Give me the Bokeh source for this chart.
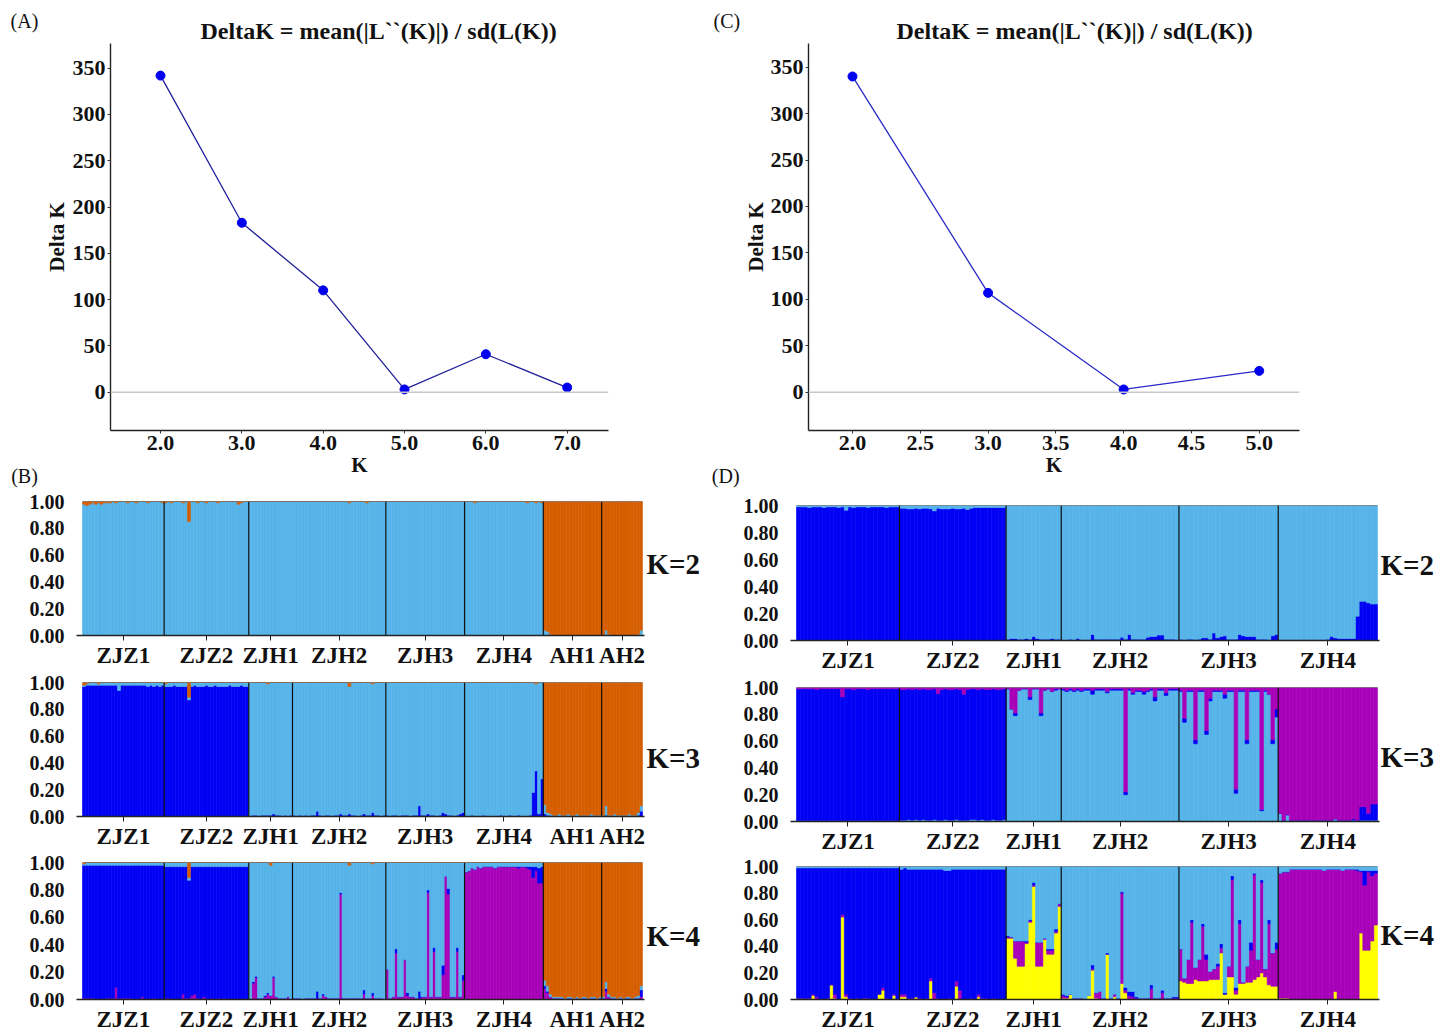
from bokeh.plotting import figure
from bokeh.layouts import column, row
from bokeh.models import Range1d, FixedTicker, Span, ColumnDataSource, NumeralTickFormatter, LinearAxis
from bokeh.embed import file_html
from bokeh.resources import INLINE

FONT = "Liberation Serif"

# ---------------- Delta K data ----------------
K_A = [2, 3, 4, 5, 6, 7]
DK_A = [342, 183, 110, 3, 41, 5]
K_C = [2, 3, 4, 5]
DK_C = [340, 107, 3, 23]
XTICKS_A = [2, 3, 4, 5, 6, 7]
XTICKS_C = [2.0, 2.5, 3.0, 3.5, 4.0, 4.5, 5.0]
YTICKS_DK = [0, 50, 100, 150, 200, 250, 300, 350]
TITLE = "DeltaK = mean(|L``(K)|) / sd(L(K))"

# ---------------- STRUCTURE data ----------------
POPS_B = ["ZJZ1", "ZJZ2", "ZJH1", "ZJH2", "ZJH3", "ZJH4", "AH1", "AH2"]
N_B = [28, 29, 15, 32, 27, 27, 20, 14]
POPS_D = ["ZJZ1", "ZJZ2", "ZJH1", "ZJH2", "ZJH3", "ZJH4"]
N_D = [28, 29, 15, 32, 27, 27]
Q_TICKS = [0.0, 0.2, 0.4, 0.6, 0.8, 1.0]

C_LB = "#56B4E9"   # light blue
C_DB = "#0000F5"   # dark blue
C_OR = "#D55E00"   # orange
C_MG = "#A800B8"   # magenta
C_YE = "#FFFF00"   # yellow

# (B) K=2 : light blue (rest) / orange
B2_ORANGE = [
    0.02, 0.03, 0.02, 0.01, 0.02, 0.01, 0.02, 0.01, 0.01, 0.01, 0.00, 0.01, 0.00, 0.00, 0.00, 0.01, 0.00, 0.00, 0.01, 0.00, 0.00, 0.00, 0.01, 0.00, 0.00, 0.00, 0.00, 0.01,
    0.01, 0.00, 0.01, 0.00, 0.00, 0.00, 0.01, 0.00, 0.15, 0.00, 0.00, 0.01, 0.00, 0.00, 0.01, 0.00, 0.00, 0.00, 0.01, 0.00, 0.00, 0.00, 0.00, 0.00, 0.00, 0.02, 0.01, 0.00, 0.00,
    0.00, 0.00, 0.00, 0.00, 0.00, 0.00, 0.00, 0.00, 0.00, 0.00, 0.00, 0.00, 0.00, 0.00, 0.00,
    0.00, 0.00, 0.00, 0.00, 0.00, 0.00, 0.00, 0.00, 0.00, 0.00, 0.00, 0.00, 0.00, 0.00, 0.00, 0.00, 0.00, 0.00, 0.00, 0.01, 0.00, 0.00, 0.00, 0.00, 0.00, 0.01, 0.00, 0.00, 0.00, 0.00, 0.00, 0.00,
    0.00, 0.00, 0.00, 0.00, 0.00, 0.00, 0.00, 0.00, 0.00, 0.00, 0.00, 0.00, 0.00, 0.00, 0.00, 0.00, 0.00, 0.00, 0.00, 0.00, 0.00, 0.00, 0.00, 0.00, 0.00, 0.00, 0.00,
    0.00, 0.00, 0.00, 0.01, 0.00, 0.00, 0.00, 0.00, 0.00, 0.00, 0.00, 0.00, 0.00, 0.00, 0.00, 0.00, 0.00, 0.00, 0.00, 0.00, 0.00, 0.01, 0.00, 0.00, 0.01, 0.00, 0.01,
    0.96, 0.97, 0.99, 1.00, 1.00, 1.00, 1.00, 1.00, 1.00, 1.00, 1.00, 1.00, 1.00, 1.00, 1.00, 1.00, 1.00, 1.00, 1.00, 1.00,
    1.00, 0.96, 0.99, 1.00, 1.00, 1.00, 1.00, 1.00, 1.00, 1.00, 1.00, 1.00, 0.99, 0.96,
]

# (B) K=3 : dark blue / light blue (rest) / orange
B3_DBLUE = [
    0.97, 0.98, 0.98, 0.98, 0.98, 0.98, 0.98, 0.98, 0.98, 0.98, 0.98, 0.98, 0.94, 0.98, 0.98, 0.98, 0.98, 0.98, 0.98, 0.98, 0.98, 0.98, 0.97, 0.98, 0.97, 0.98, 0.97, 0.98,
    0.97, 0.97, 0.97, 0.98, 0.97, 0.97, 0.97, 0.97, 0.87, 0.97, 0.98, 0.97, 0.97, 0.97, 0.98, 0.97, 0.97, 0.98, 0.97, 0.97, 0.97, 0.97, 0.98, 0.97, 0.97, 0.97, 0.98, 0.97, 0.97,
    0.00, 0.01, 0.01, 0.00, 0.01, 0.01, 0.01, 0.01, 0.02, 0.01, 0.01, 0.00, 0.01, 0.00, 0.01,
    0.01, 0.00, 0.01, 0.00, 0.01, 0.00, 0.01, 0.01, 0.04, 0.01, 0.00, 0.01, 0.01, 0.00, 0.01, 0.01, 0.02, 0.01, 0.01, 0.02, 0.01, 0.01, 0.00, 0.01, 0.02, 0.01, 0.01, 0.03, 0.01, 0.01, 0.00, 0.01,
    0.01, 0.00, 0.01, 0.01, 0.00, 0.01, 0.01, 0.01, 0.00, 0.01, 0.01, 0.08, 0.01, 0.01, 0.02, 0.01, 0.01, 0.00, 0.01, 0.03, 0.02, 0.01, 0.01, 0.00, 0.01, 0.02, 0.03,
    0.00, 0.00, 0.01, 0.00, 0.00, 0.00, 0.01, 0.00, 0.00, 0.00, 0.00, 0.00, 0.01, 0.00, 0.00, 0.01, 0.00, 0.00, 0.01, 0.00, 0.00, 0.00, 0.01, 0.18, 0.34, 0.02, 0.28,
    0.02, 0.01, 0.00, 0.00, 0.00, 0.00, 0.00, 0.00, 0.00, 0.00, 0.00, 0.00, 0.00, 0.00, 0.00, 0.00, 0.00, 0.00, 0.00, 0.00,
    0.00, 0.01, 0.00, 0.00, 0.00, 0.00, 0.00, 0.00, 0.00, 0.00, 0.00, 0.00, 0.01, 0.04,
]
B3_ORANGE = [
    0.02, 0.01, 0.00, 0.00, 0.00, 0.01, 0.00, 0.00, 0.00, 0.00, 0.00, 0.00, 0.00, 0.00, 0.00, 0.00, 0.00, 0.00, 0.00, 0.00, 0.00, 0.00, 0.00, 0.00, 0.00, 0.00, 0.00, 0.00,
    0.01, 0.00, 0.00, 0.00, 0.00, 0.00, 0.00, 0.00, 0.11, 0.00, 0.00, 0.00, 0.00, 0.00, 0.00, 0.00, 0.00, 0.00, 0.00, 0.00, 0.00, 0.00, 0.00, 0.00, 0.00, 0.00, 0.00, 0.00, 0.00,
    0.00, 0.00, 0.00, 0.00, 0.00, 0.00, 0.01, 0.00, 0.00, 0.00, 0.00, 0.00, 0.00, 0.00, 0.00,
    0.00, 0.00, 0.00, 0.00, 0.00, 0.00, 0.00, 0.00, 0.00, 0.00, 0.00, 0.00, 0.00, 0.00, 0.00, 0.00, 0.00, 0.00, 0.00, 0.03, 0.00, 0.00, 0.00, 0.00, 0.00, 0.00, 0.00, 0.01, 0.00, 0.00, 0.00, 0.00,
    0.00, 0.00, 0.00, 0.00, 0.00, 0.00, 0.00, 0.00, 0.00, 0.00, 0.00, 0.00, 0.00, 0.00, 0.00, 0.00, 0.00, 0.00, 0.00, 0.00, 0.00, 0.00, 0.00, 0.00, 0.00, 0.00, 0.00,
    0.00, 0.00, 0.00, 0.00, 0.00, 0.00, 0.00, 0.00, 0.00, 0.00, 0.00, 0.00, 0.00, 0.00, 0.00, 0.00, 0.00, 0.00, 0.00, 0.00, 0.00, 0.00, 0.00, 0.00, 0.01, 0.00, 0.00,
    0.91, 0.97, 0.98, 0.99, 0.99, 0.98, 0.99, 0.99, 0.98, 0.99, 0.99, 0.98, 0.99, 0.99, 0.99, 0.99, 0.98, 0.99, 0.99, 0.99,
    0.99, 0.92, 0.99, 0.99, 0.98, 0.99, 0.99, 0.99, 0.99, 0.98, 0.99, 0.99, 0.97, 0.92,
]

# (B) K=4 : magenta / dark blue / light blue (rest) / orange
B4_MAGENTA = [
    0.01, 0.01, 0.01, 0.01, 0.00, 0.00, 0.00, 0.00, 0.01, 0.01, 0.01, 0.09, 0.01, 0.01, 0.01, 0.01, 0.01, 0.00, 0.00, 0.00, 0.02, 0.00, 0.00, 0.00, 0.01, 0.00, 0.00, 0.00,
    0.01, 0.01, 0.00, 0.00, 0.00, 0.00, 0.04, 0.01, 0.01, 0.03, 0.04, 0.01, 0.00, 0.02, 0.01, 0.00, 0.01, 0.00, 0.01, 0.00, 0.01, 0.00, 0.00, 0.00, 0.00, 0.00, 0.00, 0.00, 0.00,
    0.00, 0.12, 0.16, 0.01, 0.01, 0.02, 0.04, 0.03, 0.16, 0.02, 0.01, 0.01, 0.01, 0.02, 0.00,
    0.01, 0.01, 0.01, 0.00, 0.01, 0.01, 0.01, 0.01, 0.01, 0.01, 0.03, 0.02, 0.01, 0.01, 0.01, 0.01, 0.77, 0.01, 0.01, 0.01, 0.01, 0.01, 0.01, 0.01, 0.04, 0.01, 0.01, 0.03, 0.01, 0.01, 0.01, 0.00,
    0.22, 0.01, 0.02, 0.34, 0.02, 0.02, 0.29, 0.03, 0.02, 0.02, 0.01, 0.01, 0.02, 0.02, 0.78, 0.02, 0.35, 0.02, 0.02, 0.18, 0.90, 0.77, 0.02, 0.02, 0.35, 0.02, 0.14,
    0.93, 0.94, 0.96, 0.95, 0.97, 0.96, 0.97, 0.97, 0.97, 0.97, 0.96, 0.97, 0.97, 0.97, 0.97, 0.97, 0.97, 0.97, 0.96, 0.97, 0.97, 0.96, 0.95, 0.89, 0.94, 0.85, 0.85,
    0.08, 0.05, 0.02, 0.01, 0.01, 0.01, 0.01, 0.00, 0.01, 0.01, 0.00, 0.01, 0.00, 0.01, 0.01, 0.00, 0.01, 0.01, 0.00, 0.01,
    0.01, 0.06, 0.02, 0.01, 0.01, 0.00, 0.01, 0.00, 0.01, 0.01, 0.00, 0.01, 0.01, 0.02,
]
B4_DBLUE = [
    0.97, 0.97, 0.97, 0.97, 0.98, 0.98, 0.98, 0.98, 0.97, 0.97, 0.97, 0.89, 0.97, 0.97, 0.97, 0.97, 0.97, 0.98, 0.98, 0.98, 0.96, 0.98, 0.98, 0.98, 0.97, 0.98, 0.98, 0.98,
    0.96, 0.96, 0.97, 0.97, 0.97, 0.97, 0.93, 0.96, 0.86, 0.94, 0.93, 0.96, 0.97, 0.95, 0.96, 0.97, 0.96, 0.97, 0.96, 0.97, 0.96, 0.97, 0.97, 0.97, 0.97, 0.97, 0.97, 0.97, 0.97,
    0.00, 0.01, 0.01, 0.00, 0.00, 0.01, 0.01, 0.00, 0.01, 0.00, 0.00, 0.00, 0.00, 0.00, 0.00,
    0.00, 0.00, 0.00, 0.00, 0.00, 0.00, 0.00, 0.00, 0.05, 0.00, 0.01, 0.00, 0.00, 0.00, 0.00, 0.00, 0.01, 0.00, 0.00, 0.00, 0.00, 0.00, 0.00, 0.00, 0.03, 0.00, 0.00, 0.02, 0.00, 0.00, 0.00, 0.00,
    0.00, 0.00, 0.00, 0.03, 0.00, 0.00, 0.00, 0.02, 0.00, 0.00, 0.00, 0.05, 0.00, 0.00, 0.02, 0.00, 0.03, 0.00, 0.00, 0.07, 0.00, 0.04, 0.00, 0.00, 0.03, 0.00, 0.04,
    0.00, 0.00, 0.00, 0.00, 0.00, 0.00, 0.00, 0.00, 0.00, 0.00, 0.00, 0.00, 0.00, 0.00, 0.00, 0.00, 0.00, 0.00, 0.01, 0.00, 0.00, 0.01, 0.02, 0.08, 0.03, 0.11, 0.12,
    0.02, 0.01, 0.00, 0.00, 0.00, 0.00, 0.00, 0.00, 0.00, 0.00, 0.00, 0.00, 0.00, 0.00, 0.00, 0.00, 0.00, 0.00, 0.00, 0.00,
    0.00, 0.02, 0.00, 0.00, 0.00, 0.00, 0.00, 0.00, 0.00, 0.00, 0.00, 0.00, 0.00, 0.05,
]
B4_ORANGE = [
    0.01, 0.00, 0.00, 0.00, 0.00, 0.00, 0.00, 0.00, 0.00, 0.00, 0.00, 0.00, 0.00, 0.00, 0.00, 0.00, 0.00, 0.00, 0.00, 0.00, 0.00, 0.00, 0.00, 0.00, 0.00, 0.00, 0.00, 0.00,
    0.00, 0.00, 0.00, 0.00, 0.00, 0.00, 0.00, 0.00, 0.11, 0.00, 0.00, 0.00, 0.00, 0.00, 0.00, 0.00, 0.00, 0.00, 0.00, 0.00, 0.00, 0.00, 0.00, 0.00, 0.00, 0.00, 0.00, 0.00, 0.00,
    0.00, 0.00, 0.00, 0.00, 0.00, 0.00, 0.00, 0.02, 0.00, 0.00, 0.00, 0.00, 0.00, 0.00, 0.00,
    0.00, 0.00, 0.00, 0.00, 0.00, 0.00, 0.00, 0.00, 0.00, 0.00, 0.00, 0.00, 0.00, 0.00, 0.00, 0.00, 0.00, 0.00, 0.00, 0.02, 0.00, 0.00, 0.00, 0.00, 0.00, 0.00, 0.00, 0.01, 0.00, 0.00, 0.00, 0.00,
    0.00, 0.00, 0.00, 0.00, 0.00, 0.00, 0.00, 0.00, 0.00, 0.00, 0.00, 0.00, 0.00, 0.00, 0.00, 0.00, 0.00, 0.00, 0.00, 0.00, 0.00, 0.00, 0.00, 0.00, 0.00, 0.00, 0.00,
    0.00, 0.00, 0.00, 0.00, 0.00, 0.00, 0.00, 0.00, 0.00, 0.00, 0.00, 0.00, 0.00, 0.00, 0.00, 0.00, 0.00, 0.00, 0.00, 0.00, 0.00, 0.00, 0.00, 0.00, 0.00, 0.00, 0.00,
    0.86, 0.90, 0.96, 0.98, 0.98, 0.98, 0.98, 0.99, 0.98, 0.98, 0.99, 0.98, 0.99, 0.98, 0.98, 0.99, 0.98, 0.98, 0.99, 0.98,
    0.98, 0.87, 0.96, 0.98, 0.98, 0.99, 0.98, 0.99, 0.98, 0.98, 0.99, 0.98, 0.97, 0.90,
]

# (D) K=2 : dark blue / light blue (rest)
D2_DBLUE = [
    0.99, 0.99, 0.99, 0.985, 0.99, 0.99, 0.99, 0.985, 0.99, 0.99, 0.99, 0.985, 0.99, 0.965, 0.99, 0.985, 0.99, 0.99, 0.99, 0.985, 0.99, 0.99, 0.99, 0.99, 0.985, 0.99, 0.99, 0.99,
    0.98, 0.98, 0.975, 0.975, 0.98, 0.975, 0.98, 0.98, 0.975, 0.96, 0.98, 0.975, 0.975, 0.975, 0.98, 0.975, 0.975, 0.98, 0.97, 0.98, 0.985, 0.985, 0.985, 0.985, 0.985, 0.985, 0.985, 0.985, 0.985,
    0.01, 0.015, 0.015, 0.01, 0.01, 0.015, 0.01, 0.03, 0.015, 0.01, 0.01, 0.01, 0.015, 0.01, 0.01,
    0.005, 0.00, 0.01, 0.00, 0.015, 0.005, 0.005, 0.005, 0.045, 0.01, 0.01, 0.01, 0.01, 0.01, 0.01, 0.01, 0.025, 0.01, 0.045, 0.01, 0.01, 0.01, 0.01, 0.025, 0.03, 0.03, 0.04, 0.04, 0.01, 0.01, 0.01, 0.005,
    0.01, 0.005, 0.01, 0.01, 0.005, 0.01, 0.02, 0.02, 0.01, 0.055, 0.02, 0.03, 0.035, 0.01, 0.01, 0.01, 0.045, 0.035, 0.03, 0.03, 0.03, 0.01, 0.01, 0.01, 0.005, 0.035, 0.045,
    0.005, 0.005, 0.005, 0.005, 0.005, 0.005, 0.005, 0.005, 0.005, 0.005, 0.005, 0.005, 0.005, 0.01, 0.03, 0.02, 0.015, 0.015, 0.015, 0.015, 0.015, 0.18, 0.29, 0.29, 0.28, 0.27, 0.27,
]

# (D) K=3 : light blue (rest) / dark blue / magenta
D3_DBLUE = [
    0.985, 0.985, 0.985, 0.985, 0.985, 0.98, 0.985, 0.985, 0.985, 0.985, 0.985, 0.985, 0.925, 0.985, 0.985, 0.98, 0.985, 0.985, 0.985, 0.98, 0.985, 0.985, 0.985, 0.985, 0.985, 0.985, 0.985, 0.985,
    0.975, 0.975, 0.975, 0.975, 0.975, 0.975, 0.975, 0.975, 0.975, 0.975, 0.945, 0.975, 0.975, 0.975, 0.975, 0.975, 0.975, 0.94, 0.975, 0.975, 0.975, 0.975, 0.975, 0.975, 0.975, 0.975, 0.975, 0.975, 0.975,
    0.00, 0.00, 0.02, 0.00, 0.00, 0.00, 0.02, 0.00, 0.00, 0.02, 0.00, 0.00, 0.00, 0.01, 0.00,
    0.01, 0.01, 0.01, 0.01, 0.01, 0.01, 0.01, 0.01, 0.03, 0.01, 0.01, 0.01, 0.01, 0.01, 0.01, 0.01, 0.01, 0.02, 0.01, 0.01, 0.01, 0.01, 0.02, 0.01, 0.01, 0.03, 0.01, 0.01, 0.02, 0.01, 0.01, 0.01,
    0.01, 0.03, 0.01, 0.01, 0.03, 0.01, 0.01, 0.03, 0.02, 0.01, 0.01, 0.01, 0.03, 0.01, 0.01, 0.03, 0.01, 0.01, 0.03, 0.01, 0.01, 0.01, 0.01, 0.01, 0.00, 0.03, 0.06,
    0.00, 0.00, 0.00, 0.00, 0.00, 0.00, 0.00, 0.00, 0.00, 0.00, 0.00, 0.00, 0.00, 0.00, 0.00, 0.00, 0.00, 0.00, 0.00, 0.00, 0.01, 0.00, 0.10, 0.10, 0.05, 0.12, 0.12,
]
D3_MAGENTA = [
    0.01, 0.01, 0.01, 0.01, 0.01, 0.015, 0.01, 0.01, 0.01, 0.01, 0.01, 0.01, 0.07, 0.01, 0.01, 0.015, 0.01, 0.01, 0.01, 0.015, 0.01, 0.01, 0.01, 0.01, 0.01, 0.01, 0.01, 0.01,
    0.015, 0.015, 0.01, 0.015, 0.01, 0.015, 0.01, 0.015, 0.015, 0.01, 0.045, 0.015, 0.01, 0.015, 0.015, 0.01, 0.015, 0.05, 0.015, 0.01, 0.01, 0.015, 0.01, 0.015, 0.015, 0.01, 0.015, 0.015, 0.01,
    0.01, 0.16, 0.19, 0.02, 0.01, 0.01, 0.07, 0.01, 0.01, 0.19, 0.02, 0.01, 0.03, 0.01, 0.01,
    0.01, 0.02, 0.01, 0.02, 0.01, 0.02, 0.01, 0.01, 0.02, 0.01, 0.01, 0.01, 0.03, 0.01, 0.01, 0.01, 0.01, 0.78, 0.01, 0.04, 0.02, 0.02, 0.03, 0.02, 0.01, 0.07, 0.01, 0.01, 0.04, 0.01, 0.01, 0.01,
    0.02, 0.23, 0.02, 0.02, 0.39, 0.02, 0.02, 0.32, 0.08, 0.02, 0.02, 0.02, 0.05, 0.02, 0.02, 0.76, 0.02, 0.02, 0.39, 0.02, 0.02, 0.02, 0.91, 0.02, 0.05, 0.39, 0.16,
    0.94, 0.99, 0.95, 0.99, 0.99, 0.99, 0.99, 0.99, 0.99, 0.99, 0.99, 0.99, 0.99, 0.99, 0.99, 0.98, 0.99, 0.99, 0.99, 0.99, 0.98, 0.99, 0.89, 0.89, 0.94, 0.87, 0.87,
]

# (D) K=4 : yellow / magenta / dark blue / light blue (rest)
D4_YELLOW = [
    0.01, 0.01, 0.00, 0.00, 0.03, 0.00, 0.00, 0.00, 0.00, 0.11, 0.01, 0.00, 0.62, 0.02, 0.00, 0.00, 0.00, 0.00, 0.01, 0.00, 0.00, 0.00, 0.04, 0.07, 0.00, 0.00, 0.03, 0.00,
    0.02, 0.02, 0.00, 0.00, 0.02, 0.00, 0.00, 0.00, 0.14, 0.00, 0.00, 0.00, 0.00, 0.00, 0.00, 0.10, 0.00, 0.00, 0.00, 0.00, 0.00, 0.02, 0.00, 0.00, 0.00, 0.00, 0.00, 0.00, 0.00,
    0.46, 0.46, 0.31, 0.25, 0.25, 0.42, 0.58, 0.85, 0.25, 0.25, 0.45, 0.34, 0.34, 0.50, 0.70,
    0.01, 0.01, 0.04, 0.00, 0.00, 0.00, 0.00, 0.03, 0.22, 0.01, 0.00, 0.00, 0.34, 0.00, 0.02, 0.00, 0.12, 0.05, 0.00, 0.00, 0.00, 0.00, 0.00, 0.00, 0.00, 0.00, 0.00, 0.00, 0.00, 0.00, 0.00, 0.00,
    0.14, 0.13, 0.12, 0.12, 0.15, 0.14, 0.14, 0.14, 0.15, 0.15, 0.15, 0.35, 0.04, 0.17, 0.17, 0.04, 0.12, 0.12, 0.13, 0.13, 0.15, 0.17, 0.20, 0.17, 0.11, 0.10, 0.10,
    0.01, 0.01, 0.01, 0.00, 0.00, 0.00, 0.00, 0.00, 0.00, 0.00, 0.00, 0.00, 0.00, 0.00, 0.00, 0.06, 0.00, 0.00, 0.00, 0.00, 0.00, 0.00, 0.50, 0.37, 0.37, 0.44, 0.56,
]
D4_MAGENTA = [
    0.00, 0.00, 0.01, 0.01, 0.01, 0.02, 0.00, 0.00, 0.01, 0.00, 0.03, 0.00, 0.02, 0.02, 0.01, 0.00, 0.01, 0.00, 0.00, 0.01, 0.00, 0.00, 0.00, 0.02, 0.01, 0.00, 0.01, 0.00,
    0.02, 0.02, 0.01, 0.01, 0.00, 0.01, 0.00, 0.01, 0.02, 0.05, 0.01, 0.00, 0.00, 0.01, 0.00, 0.04, 0.07, 0.00, 0.00, 0.01, 0.00, 0.02, 0.01, 0.01, 0.00, 0.01, 0.00, 0.00, 0.00,
    0.01, 0.01, 0.13, 0.19, 0.19, 0.01, 0.01, 0.01, 0.18, 0.18, 0.01, 0.03, 0.03, 0.01, 0.02,
    0.02, 0.01, 0.00, 0.01, 0.01, 0.01, 0.00, 0.00, 0.01, 0.04, 0.06, 0.01, 0.00, 0.01, 0.02, 0.01, 0.68, 0.02, 0.03, 0.02, 0.01, 0.01, 0.01, 0.01, 0.08, 0.01, 0.01, 0.05, 0.01, 0.01, 0.01, 0.01,
    0.24, 0.03, 0.18, 0.46, 0.09, 0.16, 0.41, 0.16, 0.06, 0.08, 0.10, 0.04, 0.00, 0.08, 0.73, 0.03, 0.45, 0.01, 0.12, 0.24, 0.79, 0.13, 0.68, 0.06, 0.46, 0.25, 0.28,
    0.94, 0.95, 0.95, 0.98, 0.98, 0.98, 0.98, 0.98, 0.98, 0.98, 0.98, 0.98, 0.97, 0.98, 0.98, 0.92, 0.98, 0.97, 0.98, 0.98, 0.98, 0.97, 0.46, 0.49, 0.59, 0.49, 0.39,
]
D4_DBLUE = [
    0.98, 0.98, 0.98, 0.98, 0.95, 0.97, 0.99, 0.99, 0.98, 0.88, 0.95, 0.99, 0.35, 0.95, 0.98, 0.99, 0.98, 0.99, 0.98, 0.98, 0.99, 0.99, 0.95, 0.90, 0.98, 0.99, 0.95, 0.99,
    0.94, 0.95, 0.97, 0.97, 0.96, 0.97, 0.98, 0.97, 0.82, 0.93, 0.97, 0.98, 0.97, 0.96, 0.98, 0.84, 0.91, 0.98, 0.98, 0.97, 0.98, 0.94, 0.97, 0.97, 0.98, 0.97, 0.98, 0.98, 0.98,
    0.01, 0.00, 0.00, 0.00, 0.00, 0.01, 0.01, 0.02, 0.00, 0.00, 0.00, 0.01, 0.01, 0.02, 0.00,
    0.01, 0.01, 0.00, 0.00, 0.00, 0.00, 0.00, 0.00, 0.03, 0.00, 0.00, 0.00, 0.01, 0.00, 0.00, 0.00, 0.01, 0.02, 0.03, 0.04, 0.01, 0.00, 0.00, 0.00, 0.03, 0.00, 0.00, 0.02, 0.00, 0.00, 0.01, 0.01,
    0.00, 0.00, 0.00, 0.02, 0.00, 0.00, 0.02, 0.04, 0.00, 0.00, 0.02, 0.03, 0.01, 0.00, 0.03, 0.02, 0.03, 0.00, 0.00, 0.06, 0.01, 0.00, 0.02, 0.00, 0.03, 0.00, 0.05,
    0.00, 0.00, 0.00, 0.00, 0.00, 0.00, 0.00, 0.00, 0.00, 0.00, 0.00, 0.00, 0.00, 0.00, 0.00, 0.00, 0.00, 0.00, 0.00, 0.00, 0.00, 0.01, 0.01, 0.11, 0.01, 0.04, 0.02,
]


def complete(layers, n):
    known = [v for _, v in layers if v is not None]
    rest = [max(0.0, 1.0 - sum(v[i] for v in known)) for i in range(n)]
    return [(c, v if v is not None else rest) for c, v in layers]


def style_text_axis(ax, size, bold=True):
    ax.major_label_text_font = FONT
    ax.major_label_text_font_style = "bold" if bold else "normal"
    ax.major_label_text_font_size = size
    ax.major_label_text_color = "#111111"


def bare_axis(ticks, overrides, size, standoff, bold=True):
    ax = LinearAxis(ticker=FixedTicker(ticks=ticks), major_label_overrides=overrides)
    style_text_axis(ax, size, bold)
    ax.axis_line_color = None
    ax.major_tick_line_color = None
    ax.minor_tick_line_color = None
    ax.major_tick_out = 0
    ax.major_tick_in = 0
    ax.major_label_standoff = standoff
    return ax


def make_letter_strip(width, height, bt, bb, xc, top_txt, bot_txt):
    p = figure(width=width, height=height, output_backend="svg", toolbar_location=None,
               x_range=Range1d(0, width), y_range=Range1d(0, 1),
               x_axis_location=None, y_axis_location=None,
               min_border_left=0, min_border_right=0, min_border_top=bt, min_border_bottom=bb)
    p.outline_line_color = None
    p.grid.visible = False
    p.add_layout(bare_axis([xc], {xc: top_txt}, "20px", 12, bold=False), "above")
    p.add_layout(bare_axis([xc], {xc: bot_txt}, "20px", 34, bold=False), "below")
    return p


def make_delta(ks, dks, xticks, width, height, bl, br, bt, bb, xr, yr,
               title_offset, ylab_standoff, line_color):
    p = figure(width=width, height=height, output_backend="svg", toolbar_location=None,
               x_range=Range1d(*xr), y_range=Range1d(*yr), title=TITLE,
               min_border_left=bl, min_border_right=br, min_border_top=bt, min_border_bottom=bb)
    p.title.align = "left"
    p.title.offset = title_offset
    p.title.standoff = 0
    p.title.text_font = FONT
    p.title.text_font_style = "bold"
    p.title.text_font_size = "24px"
    p.title.text_color = "#111111"
    p.outline_line_color = None
    p.grid.visible = False
    p.add_layout(Span(location=0, dimension="width", line_color="#c8c8c8", line_width=1.5))
    p.line(ks, dks, line_color=line_color, line_width=1.3)
    p.scatter(ks, dks, size=9, fill_color="#0000EE", line_color="#0000EE")
    p.xaxis.ticker = FixedTicker(ticks=xticks)
    p.xaxis.formatter = NumeralTickFormatter(format="0.0")
    p.yaxis.ticker = FixedTicker(ticks=YTICKS_DK)
    for ax in p.axis:
        style_text_axis(ax, "22px")
        ax.axis_line_color = "#222222"
        ax.axis_line_width = 1.4
        ax.major_tick_out = 3
        ax.major_tick_in = 0
        ax.major_tick_line_color = "#333333"
        ax.minor_tick_line_color = None
        ax.major_label_standoff = 2
        ax.axis_label_text_font = FONT
        ax.axis_label_text_font_style = "bold"
        ax.axis_label_text_font_size = "21px"
        ax.axis_label_text_color = "#111111"
    p.xaxis.axis_label = "K"
    p.xaxis.axis_label_standoff = 0
    p.yaxis.axis_label = "Delta K"
    p.yaxis.axis_label_standoff = ylab_standoff
    return p


def make_struct(pops, counts, layers, width, height, bl, br, bt, bb, xr,
                klabel, ky, kstand, skip_sep=()):
    n = sum(counts)
    p = figure(width=width, height=height, output_backend="svg", toolbar_location=None,
               x_range=Range1d(*xr), y_range=Range1d(0, 1),
               min_border_left=bl, min_border_right=br, min_border_top=bt, min_border_bottom=bb)
    p.outline_line_color = None
    p.grid.visible = False
    idx = list(range(n))
    right = [i + 1 for i in idx]
    base = [0.0] * n
    for color, vals in complete(layers, n):
        top = [b + v for b, v in zip(base, vals)]
        src = ColumnDataSource(dict(left=idx, right=right, bottom=base, top=top))
        p.quad(left="left", right="right", bottom="bottom", top="top", source=src,
               fill_color=color, line_color=color, line_width=0.6)
        base = top
    bounds, centers, c = [], [], 0
    for name, m in zip(pops, counts):
        if c > 0 and name not in skip_sep:
            bounds.append(c)
        centers.append(c + m / 2.0)
        c += m
    p.segment(x0=bounds, y0=[0] * len(bounds), x1=bounds, y1=[1] * len(bounds),
              line_color="#111111", line_width=1.2)
    p.segment(x0=[0], y0=[1], x1=[n], y1=[1], line_color="#444444", line_width=1.2)
    xa = p.xaxis[0]
    xa.ticker = FixedTicker(ticks=centers)
    xa.major_label_overrides = {ct: nm for ct, nm in zip(centers, pops)}
    style_text_axis(xa, "23px")
    xa.axis_line_color = "#222222"
    xa.axis_line_width = 1.4
    xa.major_tick_out = 5
    xa.major_tick_in = 0
    xa.major_tick_line_color = "#222222"
    xa.minor_tick_line_color = None
    xa.major_label_standoff = 2
    ya = p.yaxis[0]
    ya.ticker = FixedTicker(ticks=Q_TICKS)
    ya.formatter = NumeralTickFormatter(format="0.00")
    style_text_axis(ya, "20px")
    ya.axis_line_color = None
    ya.major_tick_line_color = None
    ya.minor_tick_line_color = None
    ya.major_label_standoff = 6
    p.add_layout(bare_axis([ky], {ky: klabel}, "29px", kstand), "right")
    return p


# ---- top block (page y 0..489) ----
stripL = make_letter_strip(41, 489, 43, 59, 24, "(A)", "(B)")
pA = make_delta(K_A, DK_A, XTICKS_A, 669, 489, 69, 102, 43, 59,
                (1.385, 7.508), (-41.4, 376.7), 90, 1, "#20209a")
stripR = make_letter_strip(30, 489, 43, 59, 17, "(C)", "(D)")
pC = make_delta(K_C, DK_C, XTICKS_C, 708, 489, 68, 149, 43, 59,
                (1.6755, 5.297), (-41.2, 375.5), 88, 0, "#2a2ac8")

XR_B = (-2.06, 192.69)
XR_D = (-1.63, 158.54)

b2 = make_struct(POPS_B, N_B, [(C_LB, None), (C_OR, B2_ORANGE)],
                 710, 181, 76, 66, 12, 33, XR_B, "K=2", 0.53, 2, skip_sep=("ZJH2",))
b3 = make_struct(POPS_B, N_B, [(C_DB, B3_DBLUE), (C_LB, None), (C_OR, B3_ORANGE)],
                 710, 181, 76, 66, 12, 33, XR_B, "K=3", 0.44, 2)
b4 = make_struct(POPS_B, N_B, [(C_MG, B4_MAGENTA), (C_DB, B4_DBLUE), (C_LB, None), (C_OR, B4_ORANGE)],
                 710, 183, 76, 66, 11, 35, XR_B, "K=4", 0.46, 2)

d2 = make_struct(POPS_D, N_D, [(C_DB, D2_DBLUE), (C_LB, None)],
                 738, 186, 80, 69, 16, 33, XR_D, "K=2", 0.56, 1)
d3 = make_struct(POPS_D, N_D, [(C_LB, None), (C_DB, D3_DBLUE), (C_MG, D3_MAGENTA)],
                 738, 181, 80, 69, 12, 33, XR_D, "K=3", 0.48, 1)
d4 = make_struct(POPS_D, N_D, [(C_YE, D4_YELLOW), (C_MG, D4_MAGENTA), (C_DB, D4_DBLUE), (C_LB, None)],
                 738, 178, 80, 69, 10, 32, XR_D, "K=4", 0.485, 1)

layout = column(row(stripL, pA, stripR, pC),
                row(column(b2, b3, b4), column(d2, d3, d4)))

open("out.html", "w").write(file_html(layout, INLINE))
